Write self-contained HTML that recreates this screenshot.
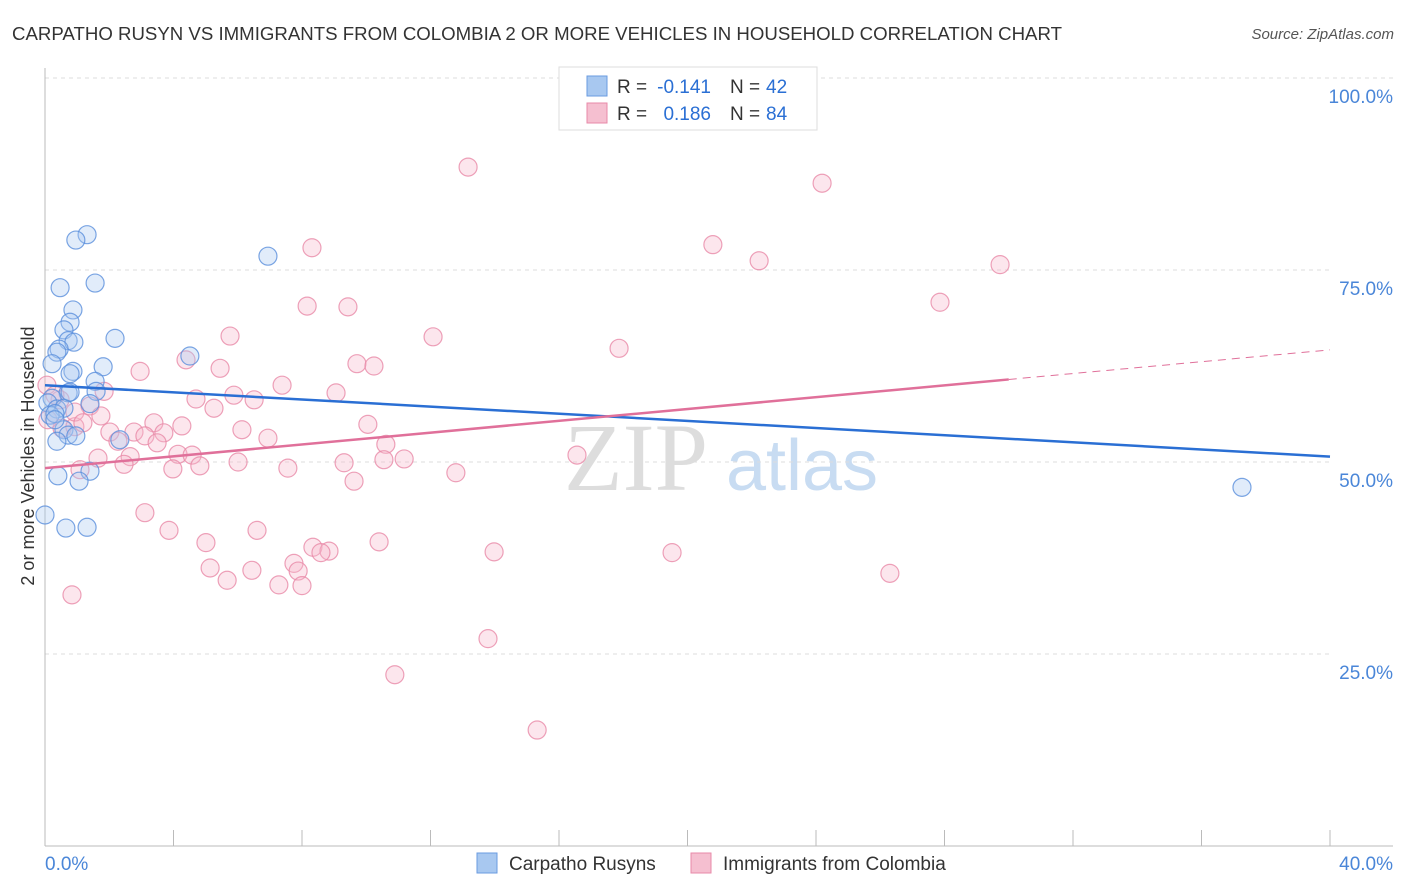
<!DOCTYPE html>
<html><head><meta charset="utf-8"><style>
body{margin:0;background:#fff;font-family:"Liberation Sans",sans-serif;}
svg{display:block}
</style></head><body>
<svg id="chart" width="1406" height="892" viewBox="0 0 1406 892">
<text x="12" y="40" font-size="18" fill="#333" textLength="1050" lengthAdjust="spacingAndGlyphs">CARPATHO RUSYN VS IMMIGRANTS FROM COLOMBIA 2 OR MORE VEHICLES IN HOUSEHOLD CORRELATION CHART</text>
<text x="1394" y="39" font-size="15" fill="#555" font-style="italic" text-anchor="end">Source: ZipAtlas.com</text>
<text x="636" y="490" font-size="96" fill="#ddd" font-family="Liberation Serif,serif" text-anchor="middle">ZIP</text>
<text x="802" y="490" font-size="72" fill="#c8dcf2" text-anchor="middle">atlas</text>
<g id="grid"></g><g id="axes"></g><g id="pts"></g><g id="lines"></g>
<text transform="translate(34,456) rotate(-90)" font-size="18" fill="#333" text-anchor="middle">2 or more Vehicles in Household</text>
<text x="45" y="870" font-size="19" fill="#4a86d8">0.0%</text>
<text x="1393" y="870" font-size="19" fill="#4a86d8" text-anchor="end">40.0%</text>
<g>
<rect x="559" y="67" width="258" height="63" fill="#fff" stroke="#ddd"/>
<rect x="587" y="76" width="20" height="20" fill="#a8c8f0" stroke="#6a9be0"/>
<rect x="587" y="103" width="20" height="20" fill="#f5bfd0" stroke="#e88aa8"/>
<text x="617" y="93" font-size="19" fill="#333">R =</text>
<text x="711" y="93" font-size="19" fill="#2a6fd4" text-anchor="end">-0.141</text>
<text x="730" y="93" font-size="19" fill="#333">N =</text>
<text x="766" y="93" font-size="19" fill="#2a6fd4">42</text>
<text x="617" y="120" font-size="19" fill="#333">R =</text>
<text x="711" y="120" font-size="19" fill="#2a6fd4" text-anchor="end">0.186</text>
<text x="730" y="120" font-size="19" fill="#333">N =</text>
<text x="766" y="120" font-size="19" fill="#2a6fd4">84</text>
</g>
<g>
<rect x="477" y="853" width="20" height="20" fill="#a8c8f0" stroke="#6a9be0"/>
<text x="509" y="870" font-size="19" fill="#333">Carpatho Rusyns</text>
<rect x="691" y="853" width="20" height="20" fill="#f5bfd0" stroke="#e88aa8"/>
<text x="723" y="870" font-size="19" fill="#333">Immigrants from Colombia</text>
</g>
</svg>
<script>
const yTicks=[25,50,75,100];
const yTickLabels=["25.0%","50.0%","75.0%","100.0%"];
const blueX=[1.31,0.96,6.94,1.56,0.47,0.87,0.78,0.59,2.18,0.72,0.90,0.44,0.37,4.51,0.22,1.81,0.87,0.78,1.56,1.59,0.72,0.22,0.09,0.37,0.59,0.16,0.31,1.40,0.59,0.72,0.96,2.33,0.37,1.40,0.40,1.06,0.65,1.31,0,37.26,0.78,0.31];
const blueY=[79.6,78.9,76.8,73.3,72.7,69.8,68.2,67.2,66.1,65.8,65.6,64.7,64.3,63.8,62.8,62.4,61.8,61.5,60.5,59.2,59.0,58.3,57.7,56.9,57.0,56.1,56.3,57.6,54.2,53.5,53.4,52.9,52.7,48.8,48.2,47.5,41.4,41.5,43.1,46.7,59.1,55.5];
const pinkX=[13.17,24.19,20.79,8.31,22.23,29.73,8.16,9.43,27.86,5.76,12.08,17.87,4.39,9.71,10.24,5.45,2.96,7.38,1.84,9.06,5.88,4.70,6.51,5.26,1.40,1.74,3.39,10.05,4.26,2.02,2.77,3.70,6.13,0.53,0.93,3.11,6.94,2.27,3.49,10.61,4.14,4.58,1.65,2.65,6.01,9.31,10.55,11.18,4.82,2.46,3.98,7.56,1.09,12.79,9.62,16.56,3.11,3.86,6.60,5.01,10.40,8.34,8.84,8.59,13.98,19.52,5.14,7.75,6.44,7.88,5.67,7.28,8.00,26.30,0.84,13.79,10.89,15.32,0.06,0.47,0.93,0.09,0.31,1.18];
const pinkY=[88.4,86.3,78.3,77.9,76.2,75.7,70.3,70.2,70.8,66.4,66.3,64.8,63.3,62.8,62.5,62.2,61.8,60.0,59.2,59.0,58.7,58.2,58.1,57.0,57.3,56.0,55.1,54.9,54.7,53.9,53.9,53.8,54.2,54.4,54.6,53.4,53.1,52.7,52.5,52.3,51.0,50.9,50.5,50.7,50.0,49.9,50.3,50.4,49.5,49.7,49.1,49.2,49.0,48.6,47.5,50.9,43.4,41.1,41.1,39.5,39.6,38.9,38.4,38.2,38.3,38.2,36.2,36.8,35.9,35.8,34.6,34.0,33.9,35.5,32.7,27.0,22.3,15.1,60.0,58.1,56.5,55.5,58.7,55.1];
const blueTrend=[60.0,50.7];
const pinkTrend=[49.2,64.6];
const pinkSolidEnd=30;
const NS="http://www.w3.org/2000/svg";
const X=v=>45+v/40*1285, Y=v=>846-v/100*768;
function mk(t,a,p){const e=document.createElementNS(NS,t);for(const k in a)e.setAttribute(k,a[k]);p.appendChild(e);return e;}
const grid=document.getElementById('grid'),axes=document.getElementById('axes'),pts=document.getElementById('pts'),lines=document.getElementById('lines');
yTicks.forEach((t,i)=>{
 const l=mk('line',{x1:45,x2:t===100?1393:1330,y1:Y(t),y2:Y(t),stroke:'#ddd','stroke-dasharray':'4,4'},grid);
 
 
 const tx=mk('text',{x:1393,y:Y(t)+25,'font-size':19,fill:'#4a86d8','text-anchor':'end'},grid);
 tx.textContent=yTickLabels[i];
 
 
});
let a=mk('line',{x1:45,x2:45,y1:68,y2:846,stroke:'#bbb'},axes);


a=mk('line',{x1:45,x2:1393,y1:846,y2:846,stroke:'#bbb'},axes);


for(let i=1;i<=10;i++){const t=mk('line',{x1:X(i*4),x2:X(i*4),y1:830,y2:846,stroke:'#bbb'},axes);
 
 }
function dots(xs,ys,fill,stroke,name){xs.forEach((x,i)=>{const c=mk('circle',{cx:X(x),cy:Y(ys[i]),r:9,fill:fill,'fill-opacity':0.35,stroke:stroke,'stroke-opacity':0.8,'stroke-width':1.2},pts);
 
 });}
dots(pinkX,pinkY,'#f5b8cb','#e88aa8','point-colombia');
dots(blueX,blueY,'#a8c8f0','#5a8fdc','point-carpatho-rusyn');
let ln=mk('line',{x1:X(0),y1:Y(blueTrend[0]),x2:X(40),y2:Y(blueTrend[1]),stroke:'#2a6fd4','stroke-width':2.5},lines);


const pv=x=>pinkTrend[0]+(pinkTrend[1]-pinkTrend[0])*x/40;
ln=mk('line',{x1:X(0),y1:Y(pv(0)),x2:X(pinkSolidEnd),y2:Y(pv(pinkSolidEnd)),stroke:'#e0709a','stroke-width':2.5},lines);


ln=mk('line',{x1:X(pinkSolidEnd),y1:Y(pv(pinkSolidEnd)),x2:X(40),y2:Y(pv(40)),stroke:'#e0709a','stroke-width':1,'stroke-dasharray':'8,6'},lines);


</script>
</body></html>
